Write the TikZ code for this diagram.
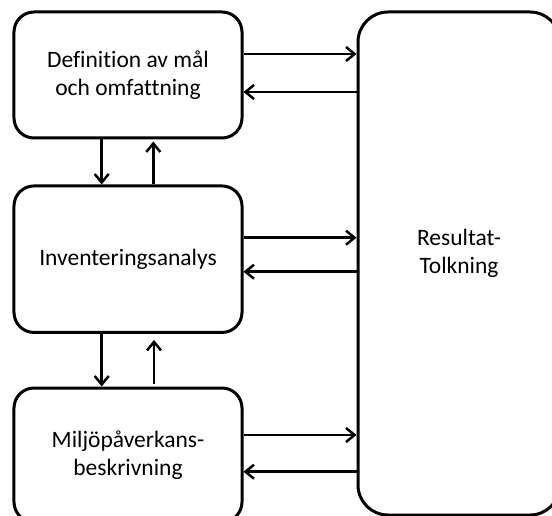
\documentclass[tikz,border=0pt]{standalone}
\usepackage{fontspec}
\setmainfont{Carlito}[Ligatures=NoCommon]
\usetikzlibrary{arrows.meta}

\begin{document}
\begin{tikzpicture}[
  x=1bp, y=-1bp,
  stagebox/.style={draw=black, line width=3bp, rounded corners=20bp,
    minimum width=228bp, inner sep=0pt, align=center,
    font=\fontsize{23.5bp}{28.5bp}\selectfont},
  resbox/.style={draw=black, line width=3bp, rounded corners=30bp,
    minimum width=202bp, minimum height=503bp, inner sep=0pt},
  lbl/.style={align=center, inner sep=0pt,
    font=\fontsize{23.5bp}{28.5bp}\selectfont},
  arr/.style={line width=2.5bp,
    -{Straight Barb[length=8.5bp,width=14bp,line width=2.5bp]}}
]
% canvas
\fill[white] (0,0) rectangle (552,516);
\useasboundingbox (0,0) rectangle (552,516);
\clip (0,0) rectangle (552,516);

% the three stages on the left
\node[stagebox, minimum height=126bp] (b1) at (128,75)
  {Definition av mål\\och omfattning};
\node[stagebox, minimum height=146.5bp] (b2) at (128,259.2)
  {Inventeringsanalys};
\node[stagebox, minimum height=134bp] (b3) at (128,455)
  {Miljöpåverkans-\\beskrivning};

% interpretation box on the right
\node[resbox] (res) at (459,263.5) {};
\node[lbl] (rt) at ([yshift=10bp]res.center) {Resultat-\\Tolkning};

% stage <-> interpretation
\draw[arr] (b1.east |- 0,54) -- (res.west |- 0,54);
\draw[arr] (res.west |- 0,92) -- (b1.east |- 0,92);
\draw[arr] (b2.east |- 0,237.7) -- (res.west |- 0,237.7);
\draw[arr] (res.west |- 0,271.7) -- (b2.east |- 0,271.7);
\draw[arr] (b3.east |- 0,435) -- (res.west |- 0,435);
\draw[arr] (res.west |- 0,471.7) -- (b3.east |- 0,471.7);

% stage <-> stage
\draw[arr] (b1.south -| 101.7,0) -- (b2.north -| 101.7,0);
\draw[arr] (b2.north -| 153.3,0) -- ([yshift=-2bp]b1.south -| 153.3,0);
\draw[arr] (b2.south -| 101.7,0) -- (b3.north -| 101.7,0);
\draw[arr] ([yshift=3bp]b3.north -| 154,0) -- ([yshift=-6bp]b2.south -| 154,0);
\end{tikzpicture}
\end{document}
